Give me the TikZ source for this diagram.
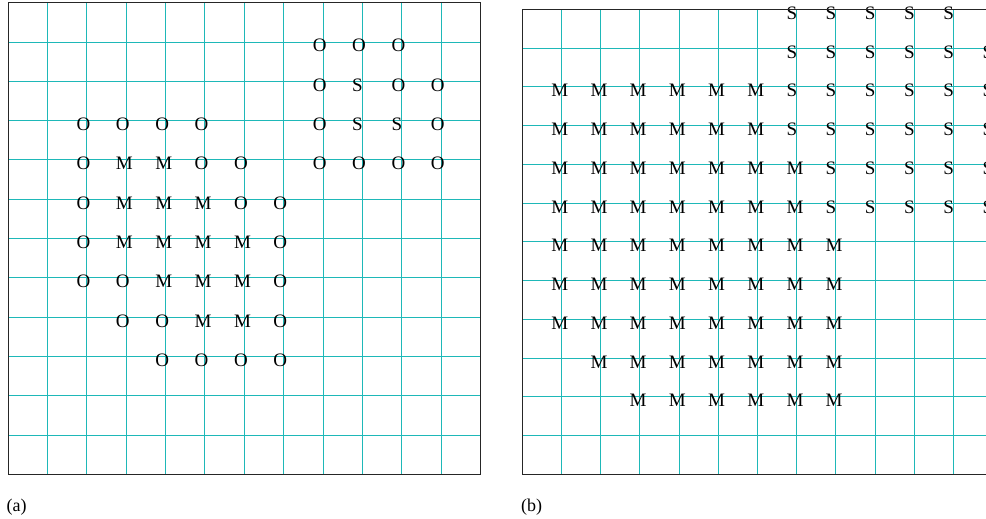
\documentclass[tikz,border=0pt]{standalone}
\usepackage{fontspec}
\setmainfont{Liberation Serif}
\definecolor{gridteal}{RGB}{30,184,184}
\tikzset{
  gridline/.style={draw=gridteal, line width=1.2pt},
  framebox/.style={draw=black!85, line width=1.3pt},
  cell/.style={anchor=base west, inner sep=0pt, outer sep=0pt, font=\fontsize{19}{22}\selectfont},
  panellabel/.style={anchor=base west, inner sep=0pt, font=\fontsize{18}{21}\selectfont},
}
\begin{document}
\begin{tikzpicture}[x=1pt,y=-1pt]
\useasboundingbox (0,0) rectangle (986,519);
\clip (0,0) rectangle (986,519);
% ---------- panel (a) ----------
\def\ax{8}\def\ay{2.7}\def\adx{39.38}\def\ady{39.3}
\pgfmathsetmacro\aL{floor(\ax)+0.5}
\pgfmathsetmacro\aT{floor(\ay)+0.5}
\pgfmathsetmacro\aR{floor(\ax+12*\adx)+0.5}
\pgfmathsetmacro\aB{floor(\ay+12*\ady)+0.5}
\foreach \i in {1,...,11}{
  \pgfmathsetmacro\xx{floor(\ax+\i*\adx)+0.5}
  \draw[gridline] (\xx,\aT) -- (\xx,\aB);
}
\foreach \j in {1,...,11}{
  \pgfmathsetmacro\yy{floor(\ay+\j*\ady)+0.5}
  \draw[gridline] (\aL,\yy) -- (\aR,\yy);
}
\foreach \i/\j/\t in {
  8/1/O, 9/1/O, 10/1/O,
  8/2/O, 9/2/S, 10/2/O, 11/2/O,
  2/3/O, 3/3/O, 4/3/O, 5/3/O, 8/3/O, 9/3/S, 10/3/S, 11/3/O,
  2/4/O, 3/4/M, 4/4/M, 5/4/O, 6/4/O, 8/4/O, 9/4/O, 10/4/O, 11/4/O,
  2/5/O, 3/5/M, 4/5/M, 5/5/M, 6/5/O, 7/5/O,
  2/6/O, 3/6/M, 4/6/M, 5/6/M, 6/6/M, 7/6/O,
  2/7/O, 3/7/O, 4/7/M, 5/7/M, 6/7/M, 7/7/O,
  3/8/O, 4/8/O, 5/8/M, 6/8/M, 7/8/O,
  4/9/O, 5/9/O, 6/9/O, 7/9/O}
  \node[cell] (a-\i-\j) at (\ax+\i*\adx-10.2,\ay+\j*\ady+10) {\t};
\draw[framebox] (\aL,\aT) rectangle (\aR,\aB);
\node[panellabel] (labela) at (6.5,511.5) {(a)};
% ---------- panel (b) ----------
\def\bx{522.3}\def\by{9.3}\def\bdx{39.2}\def\bdy{38.75}
\pgfmathsetmacro\bL{floor(\bx)+0.5}
\pgfmathsetmacro\bT{floor(\by)+0.5}
\pgfmathsetmacro\bR{floor(\bx+12*\bdx)+0.5}
\pgfmathsetmacro\bB{floor(\by+12*\bdy)+0.5}
\foreach \i in {1,...,11}{
  \pgfmathsetmacro\xx{floor(\bx+\i*\bdx)+0.5}
  \draw[gridline] (\xx,\bT) -- (\xx,\bB);
}
\foreach \j in {1,...,11}{
  \pgfmathsetmacro\yy{floor(\by+\j*\bdy)+0.5}
  \draw[gridline] (\bL,\yy) -- (\bR,\yy);
}
\foreach \j/\ma/\mb/\sa/\sb in {
  0/0/0/7/11, 1/0/0/7/12, 2/1/6/7/12, 3/1/6/7/12,
  4/1/7/8/12, 5/1/7/8/12, 6/1/8/0/0, 7/1/8/0/0, 8/1/8/0/0,
  9/2/8/0/0, 10/3/8/0/0}{
  \ifnum\ma>0
    \foreach \i in {\ma,...,\mb}
      \node[cell] (b-\i-\j) at (\bx+\i*\bdx-10.2,\by+\j*\bdy+10) {M};
  \fi
  \ifnum\sa>0
    \foreach \i in {\sa,...,\sb}
      \node[cell] (b-\i-\j) at (\bx+\i*\bdx-10.2,\by+\j*\bdy+10) {S};
  \fi
}
\draw[framebox] (\bL,\bT) rectangle (\bR,\bB);
\node[panellabel] (labelb) at (521,511.5) {(b)};
\end{tikzpicture}
\end{document}
